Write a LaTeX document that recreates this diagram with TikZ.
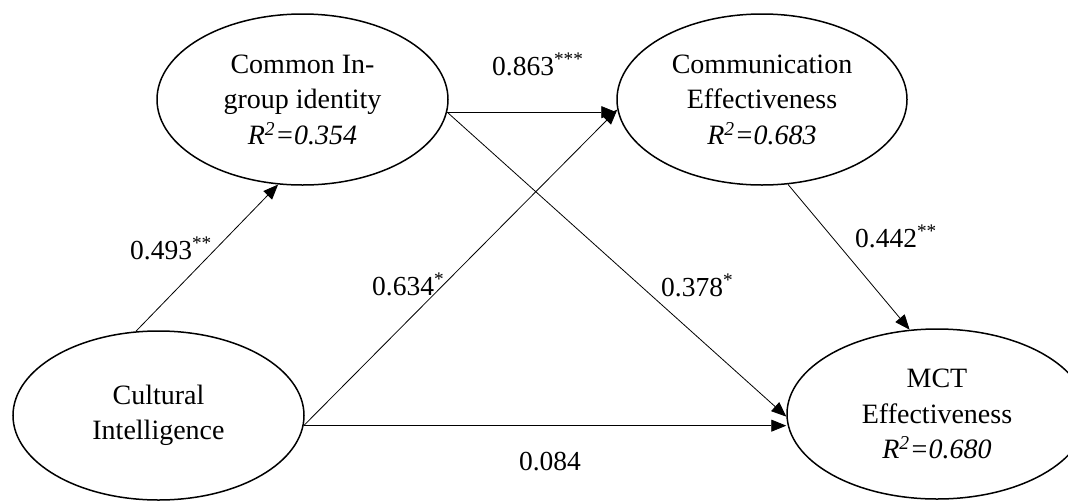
\documentclass[tikz,border=0pt]{standalone}
\usepackage{fontspec}
\setmainfont{Liberation Serif}
\usetikzlibrary{shapes.geometric,arrows.meta}
\begin{document}
\begin{tikzpicture}[x=1pt,y=-1pt,
  lat/.style={ellipse, draw, line width=1.5pt, inner sep=0pt, align=center,
    font=\fontsize{28}{35.5}\selectfont},
  pth/.style={line width=0.8pt, -{Triangle[length=15pt,width=12pt]}},
  lbl/.style={font=\fontsize{27.5}{33}\selectfont, inner sep=0pt, anchor=base west}]
\useasboundingbox (0,0) rectangle (1068,501);
\node[lat, minimum width=291pt, minimum height=171pt] (gi) at (302.5,99.5)
  {Common In-\\group identity\\\textit{R\textsuperscript{2}=0.354}};
\node[lat, minimum width=290pt, minimum height=171pt] (ce) at (762,99.5)
  {Communication\\Effectiveness\\\textit{R\textsuperscript{2}=0.683}};
\node[lat, minimum width=291pt, minimum height=169pt] (ci) at (158.5,415.5)
  {Cultural\\Intelligence};
\node[lat, minimum width=300pt, minimum height=170pt] (mct) at (937,414)
  {MCT\\Effectiveness\\\textit{R\textsuperscript{2}=0.680}};
\draw[pth] (ci.105) -- (gi.254);
\draw[pth] (ci.356.3) -- (ce.184.5);
\draw[pth] (ci.356.3) -- (ci.356.3 -| mct.west);
\draw[pth] (gi.355.5) -- (gi.355.5 -| ce.west);
\draw[pth] (gi.355.5) -- (mct.181.5);
\draw[pth] (ce.287.7) -- (mct.108.6);
\node[lbl] (l1) at (492,75) {0.863\textsuperscript{***}};
\node[lbl] (l2) at (130,259) {0.493\textsuperscript{**}};
\node[lbl] (l3) at (372,295) {0.634\textsuperscript{*}};
\node[lbl] (l4) at (661,296) {0.378\textsuperscript{*}};
\node[lbl] (l5) at (855,247) {0.442\textsuperscript{**}};
\node[lbl, anchor=base] (l6) at (550,470) {0.084};
\end{tikzpicture}
\end{document}
